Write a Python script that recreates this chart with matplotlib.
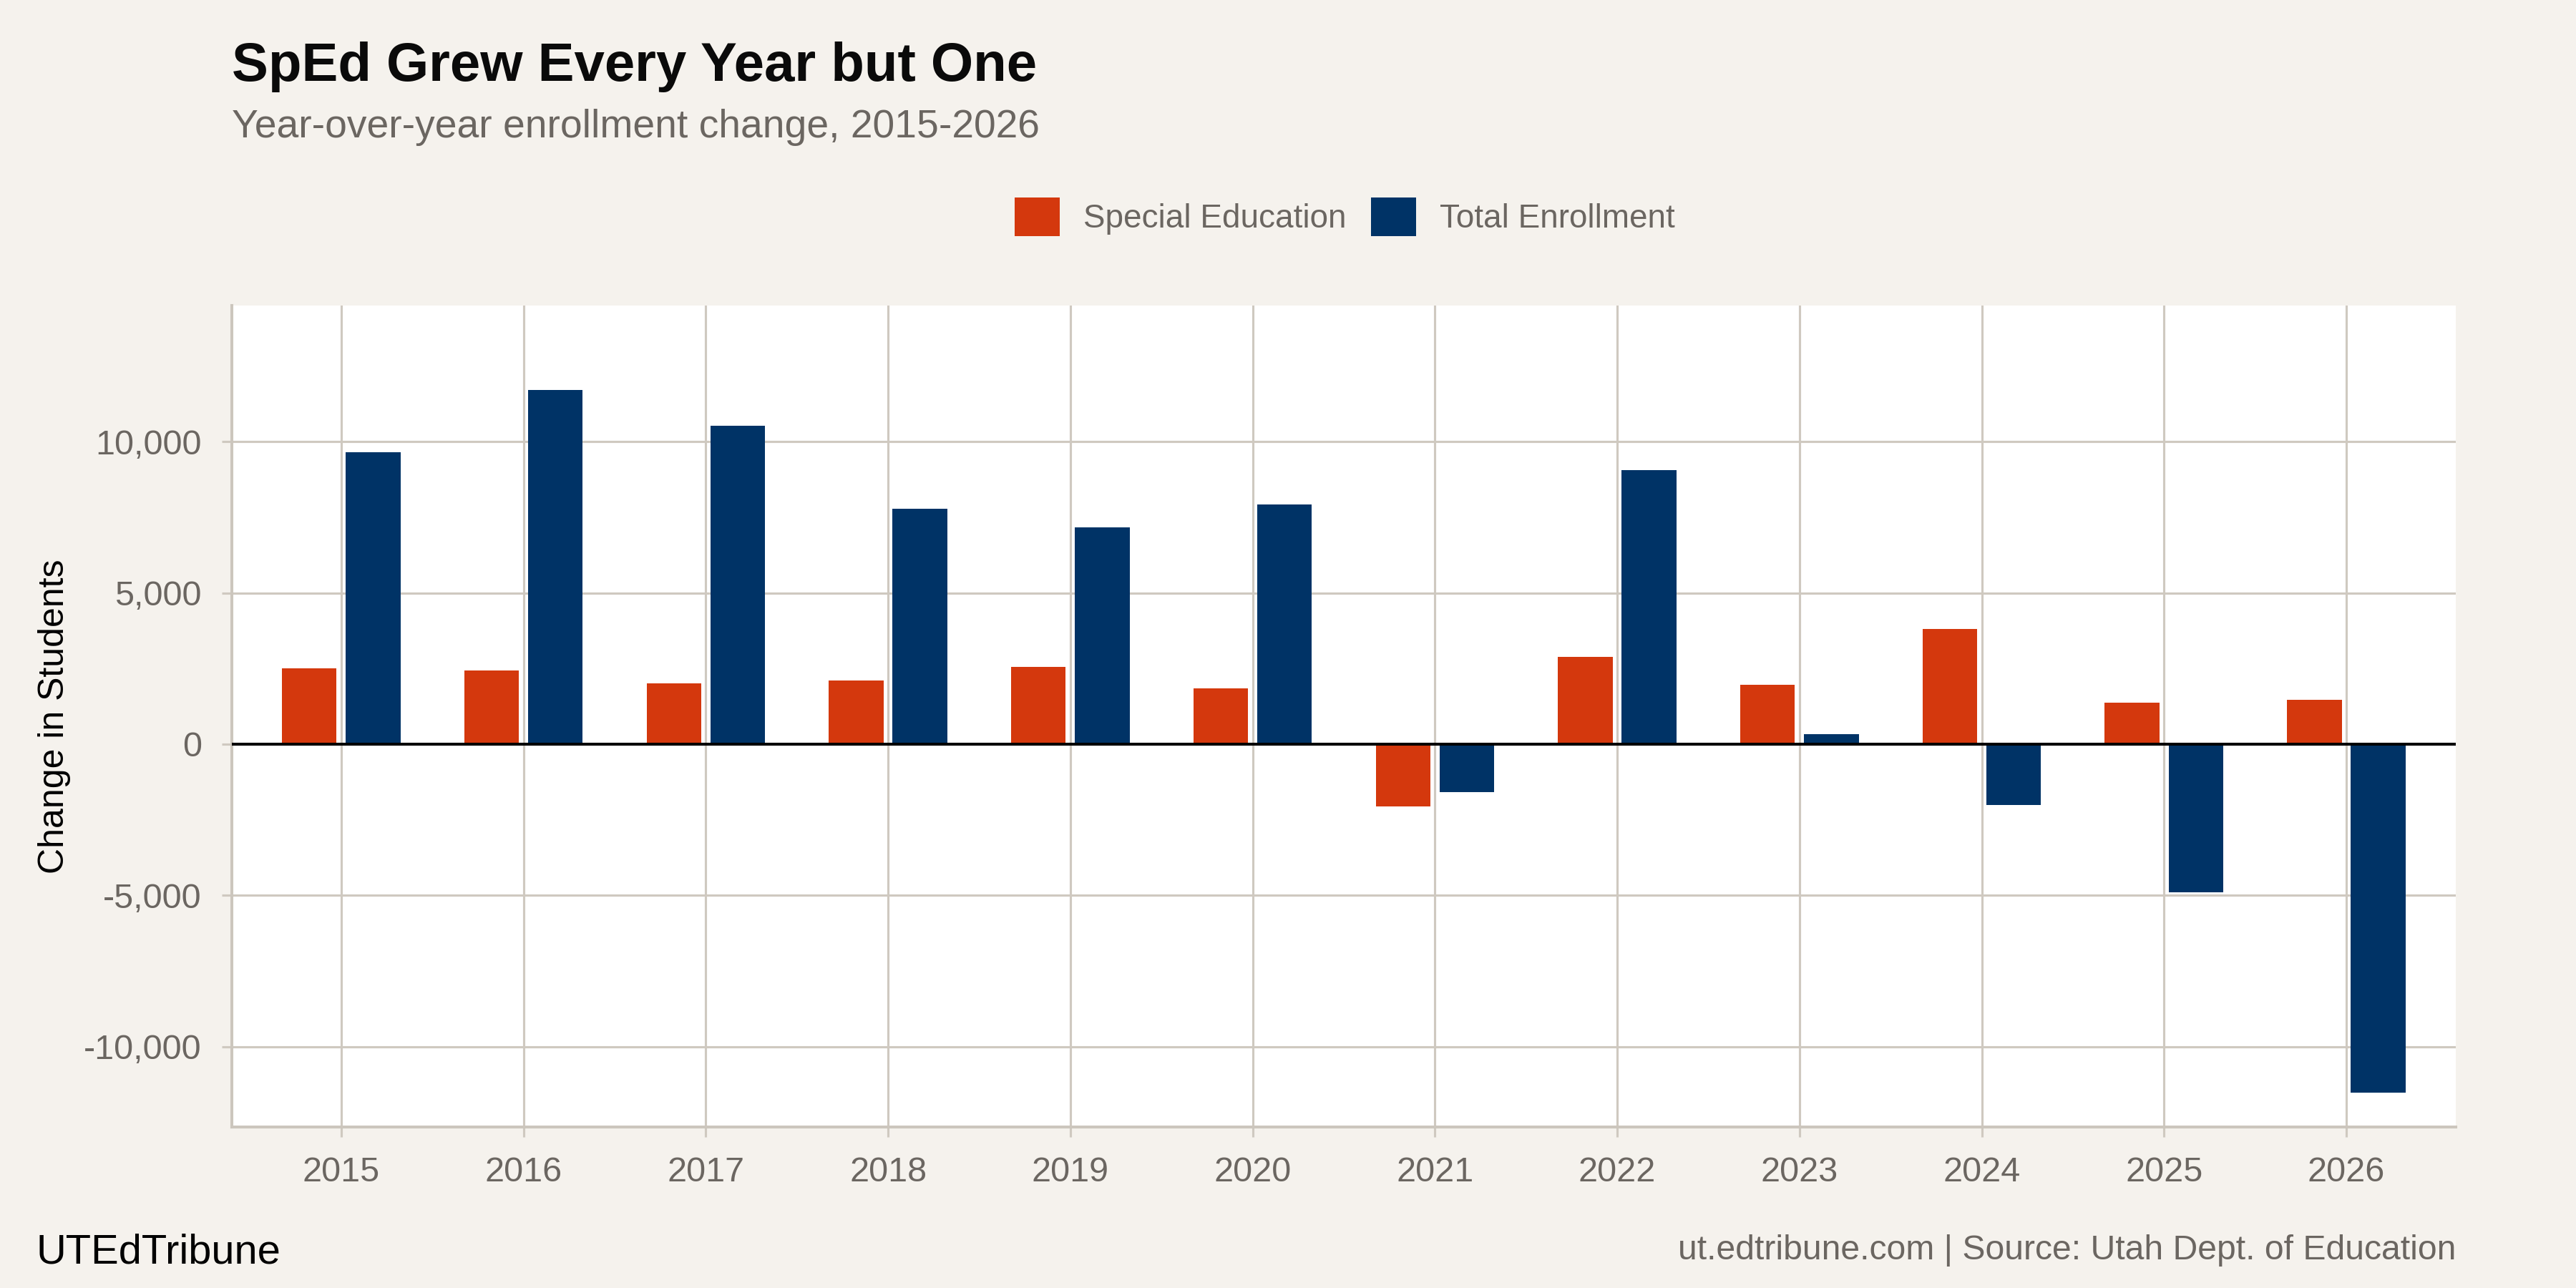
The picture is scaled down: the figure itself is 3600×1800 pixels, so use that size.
import numpy as np
import matplotlib
matplotlib.use("Agg")
from matplotlib import pyplot as plt
from matplotlib.ticker import FuncFormatter

plt.rcParams['font.family'] = ['Liberation Sans', 'DejaVu Sans']

years = ["2015", "2016", "2017", "2018", "2019", "2020",
         "2021", "2022", "2023", "2024", "2025", "2026"]
sped = [2510, 2430, 2000, 2100, 2550, 1850, -2060, 2880, 1960, 3800, 1370, 1460]
total = [9650, 11710, 10530, 7780, 7170, 7930, -1580, 9060, 320, -2010, -4890, -11520]

bg = "#f5f2ed"
red = "#d4380d"
blue = "#003366"
grid = "#cfc9c0"
gray = "#6b6661"

fig = plt.figure(figsize=(16, 8), dpi=225, facecolor=bg)
ax = fig.add_axes([0.09, 0.125, 0.8633, 0.6378])
ax.set_facecolor("white")

x = np.arange(len(years))
w = 0.3
ax.bar(x - 0.175, sped, w, color=red, label="Special Education", zorder=3)
ax.bar(x + 0.175, total, w, color=blue, label="Total Enrollment", zorder=3)
ax.axhline(0, color="black", lw=1.3, zorder=4)

ax.set_xlim(-0.6, 11.6)
ax.set_ylim(-12660, 14505)
ax.set_xticks(x)
ax.set_xticklabels(years)
ax.set_yticks([-10000, -5000, 0, 5000, 10000])
ax.yaxis.set_major_formatter(FuncFormatter(lambda v, p: f"{int(v):,}"))

ax.grid(True, color=grid, lw=1.0, zorder=0)
for s in ["top", "right"]:
    ax.spines[s].set_visible(False)
for s in ["left", "bottom"]:
    ax.spines[s].set_color("#ccc6bd")
    ax.spines[s].set_linewidth(1.3)

ax.tick_params(axis="both", colors=grid, length=4.5, width=1.0,
               labelcolor=gray, labelsize=15.5)
ax.tick_params(axis="y", pad=9)
ax.tick_params(axis="x", pad=8.5)

ax.set_ylabel("Change in Students", fontsize=16, color="black")
ax.yaxis.set_label_coords(-0.0725, 0.5)

fig.text(0.09, 0.937, "SpEd Grew Every Year but One", fontsize=24.4,
         fontweight="bold", color="#0a0a0a", va="baseline")
fig.text(0.09, 0.8933, "Year-over-year enrollment change, 2015-2026",
         fontsize=17.7, color=gray, va="baseline")

fig.legend(loc="center", bbox_to_anchor=(0.522, 0.8317), ncol=2, frameon=False,
           fontsize=14.7, labelcolor=gray, handlelength=1.37, handleheight=1.41,
           handletextpad=0.72, columnspacing=0.76)

fig.text(0.014, 0.019, "UTEdTribune", fontsize=18.5, color="black", va="baseline")
fig.text(0.9533, 0.022, "ut.edtribune.com | Source: Utah Dept. of Education",
         fontsize=15.4, color=gray, ha="right", va="baseline")

fig.savefig("out.png", dpi=225, facecolor=bg)
